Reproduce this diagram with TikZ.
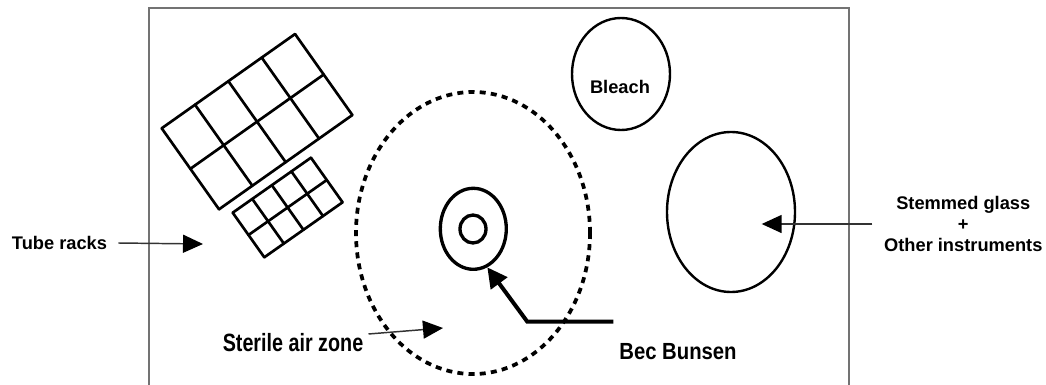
\documentclass[tikz,border=0pt]{standalone}
\usepackage{graphicx}
\usepackage{fontspec}
\setmainfont{Liberation Sans}
\usetikzlibrary{shapes.geometric,arrows.meta,calc}
\begin{document}
\begin{tikzpicture}[x=0.75pt,y=-0.75pt,
  lbl/.style={font=\bfseries\fontsize{13.7}{15.4}\selectfont, inner sep=0pt, align=center},
  rackline/.style={line width=2pt, line join=round, line cap=round},
  ring/.style={draw, ellipse, inner sep=0pt, line width=1.8pt},
  burnerring/.style={draw, ellipse, inner sep=0pt, line width=2.5pt},
  thinarrow/.style={line width=1.1pt, draw=black!80, -{Triangle[length=15pt,width=13.5pt,color=black]}},
]
\clip (0,0) rectangle (1046,385);
\fill[white] (0,0) rectangle (1046,385);
% bench outline
\draw[line width=1.5pt, draw=black!55] (149,400) -- (149,8) -- (849,8) -- (849,400);

% large tube rack
\begin{scope}[shift={(161.7,128.3)}, x={(100pt,70.7pt)}, y={(43pt,-60.75pt)}]
  \foreach \i in {0,0.25,0.5,0.75,1} \draw[rackline] (\i,0) -- (\i,1);
  \foreach \j in {0,0.5,1} \draw[rackline] (0,\j) -- (1,\j);
\end{scope}
% small tube rack
\begin{scope}[shift={(232.7,212.7)}, x={(58.7pt,41.25pt)}, y={(23.7pt,-33.45pt)}]
  \foreach \i in {0,0.25,0.5,0.75,1} \draw[rackline] (\i,0) -- (\i,1);
  \foreach \j in {0,0.5,1} \draw[rackline] (0,\j) -- (1,\j);
\end{scope}

% sterile zone
\node[draw, ellipse, inner sep=0pt, minimum width=175.5pt, minimum height=211.5pt,
      line width=2.8pt, dash pattern=on 4.5pt off 3.9pt] (zone) at (473,233) {};
% bunsen burner
\node[burnerring, minimum width=49.5pt, minimum height=60.75pt] (burner) at (473.3,228.8) {};
\node[burnerring, minimum width=19.5pt, minimum height=21pt] (flame) at (473,229) {};
% bleach
\node[ring, minimum width=73.5pt, minimum height=84pt] (bleachring) at (621,74) {};
\node[lbl] (bleach) at (620,87) {Bleach};
% stemmed glass
\node[ring, minimum width=96pt, minimum height=120pt] (glassring) at (731,212) {};
\node[lbl] (stem) at (963.3,224) {Stemmed glass\\+\\Other instruments};

% labels
\node[lbl] (tube) at (59.5,243) {Tube racks};
\node[inner sep=0pt, font=\bfseries\fontsize{18.75}{20}\selectfont] (sterile) at (293,343) {\scalebox{0.79}[1]{Sterile air zone}};
\node[inner sep=0pt, font=\bfseries\fontsize{17.5}{19}\selectfont] (bec) at (678,352) {\scalebox{0.87}[1]{Bec Bunsen}};

% arrow ends
\coordinate (tubetip) at (203,244);
\coordinate (stemtip) at (761.7,224);
\coordinate (steriletip) at (443,328);
\coordinate (becstart) at (613.3,321.7);
\coordinate (becbend) at (527.3,321.7);

\draw[thinarrow] ([xshift=8.25pt]tube.east) -- (tubetip);
\draw[thinarrow] ([xshift=-8.7pt]stem.west) -- (stemtip);
\draw[thinarrow] ($(sterile.east)+(5,-9)$) -- (steriletip);
\draw[line width=3pt, -{Triangle[length=15pt,width=15pt]}] (becstart) -- (becbend) -- (burner.-70);
\end{tikzpicture}
\end{document}
